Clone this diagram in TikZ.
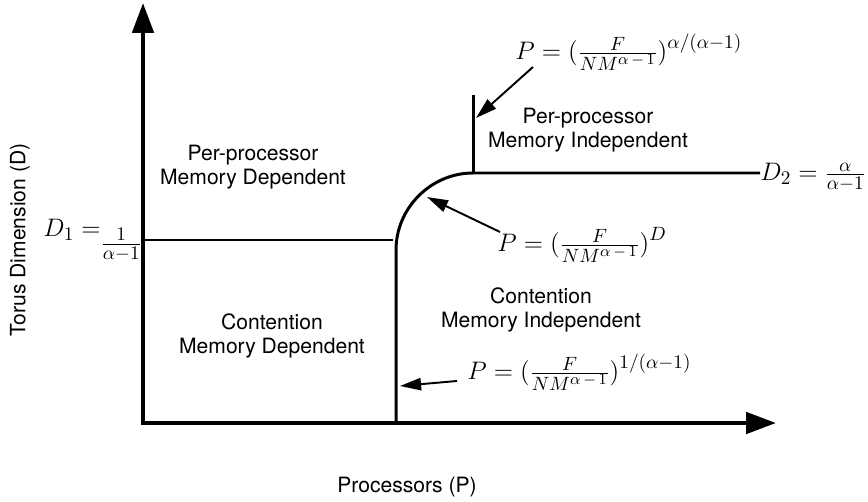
\documentclass[tikz,border=0pt]{standalone}
\usepackage{fontspec}
\setsansfont{TeX Gyre Heros}
\usetikzlibrary{arrows.meta,calc}
\DeclareMathSizes{14.5}{14.5}{11}{9.5}
\newcommand{\denom}{NM^{\alpha\,-\,1}}

\tikzset{
	region/.style={font=\sffamily\fontsize{12}{14}\selectfont, align=center, inner sep=0pt},
	formula/.style={font=\fontsize{14.5}{16}\selectfont, inner sep=0pt},
	axis/.style={line width=2.5pt, {Triangle[length=17pt,width=12pt]}-{Triangle[length=17pt,width=12pt]}},
	border/.style={line width=1.7pt},
	pointer/.style={line width=1.1pt, -{Triangle[length=12pt,width=7pt]}}
}

\begin{document}
\begin{tikzpicture}[x=0.02cm, y=-0.02cm]
		%%%%% START %%%%%
		\useasboundingbox (0,0) rectangle (868,502);
		
		% axes
		\coordinate (top) at (143,3);
		\coordinate (origin) at (143,423);
		\coordinate (right) at (776,423);
		\draw[axis] (top) -- (origin) -- (right);
		
		\node[region, rotate=90] (ylab) at (20,240) {Torus Dimension (D)};
		\node[region] (xlab) at (407,487) {Processors (P)};
		
		% region borders
		\draw[border] (143,240) -- (393,240);
		\draw[border] (396,423) -- (396,250) .. controls (396,208) and (431,173) .. (473,173) -- (760,173);
		\draw[border] (473,173) -- (473,95);
		
		% regions
		\node[region] (pmd) at (253,167) {Per-processor\\Memory Dependent};
		\node[region] (pmi) at (588,130) {Per-processor\\Memory Independent};
		\node[region] (cmd) at (272,336) {Contention\\Memory Dependent};
		\node[region] (cmi) at (541,310) {Contention\\Memory Independent};
		
		% levels
		\node[formula, anchor=base west] (d1) at (43,237) {$D_1 =_{\textstyle\frac{1}{\alpha-1}}$};
		\node[formula, anchor=base west] (d2) at (760,181) {$D_2 = \frac{\alpha}{\alpha-1}$};
		
		% boundaries in P
		\node[formula, anchor=base west] (pa) at (515,60) {$P = \big(\frac{F}{\denom}\big)^{\alpha/(\alpha-1)}$};
		\node[formula, anchor=base west] (pb) at (497,252) {$P = \big(\frac{F}{\denom}\big)^{D}$};
		\node[formula, anchor=base west] (pc) at (467,380) {$P = \big(\frac{F}{\denom}\big)^{1/(\alpha-1)}$};
		
		\coordinate (ta) at (476,118);
		\coordinate (tb) at (427,197);
		\coordinate (tc) at (400,386);
		\draw[pointer] ($(pa.base west)+(18,7)$) -- (ta);
		\draw[pointer] ($(pb.base west)+(3,-20)$) -- (tb);
		\draw[pointer] ($(pc.base west)+(-10,1)$) -- (tc);
		
		%%%%% END %%%%%
	\end{tikzpicture}
\end{document}
